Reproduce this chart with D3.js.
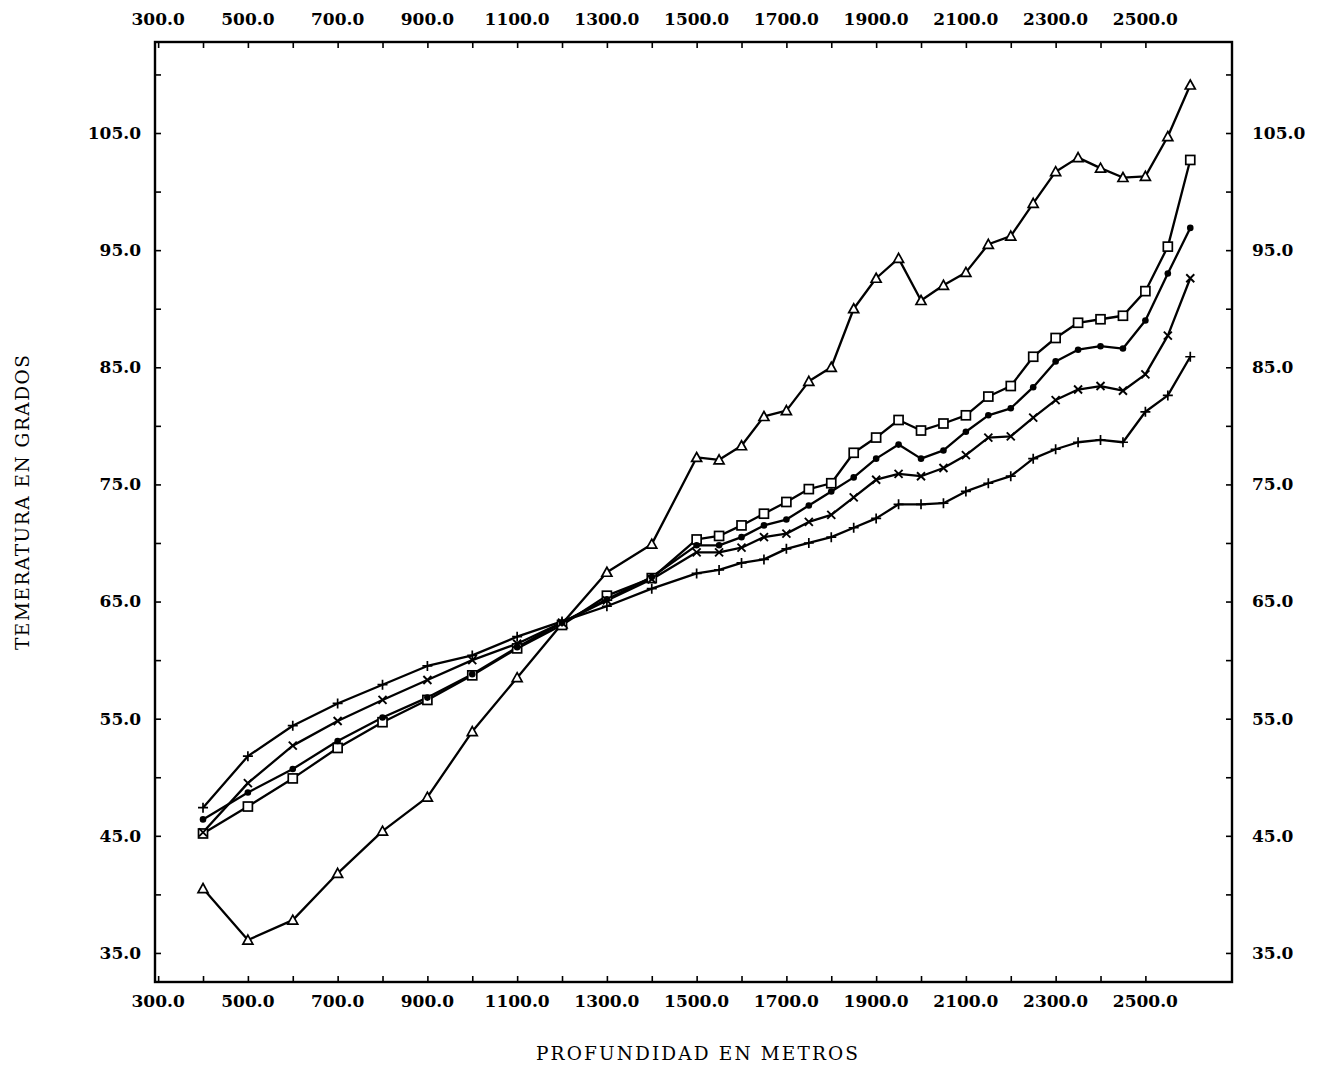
<!DOCTYPE html>
<html lang="es">
<head>
<meta charset="utf-8">
<title>Temperatura vs profundidad</title>
<script src="https://cdnjs.cloudflare.com/ajax/libs/d3/7.8.5/d3.min.js"></script>
<style>
  body { margin: 0; background: #fff; }
  svg { display: block; }
</style>
</head>
<body>
<div id="chart"></div>
<script>
////////////////////////////////////////////////// DATA
// profundidad (m)
var depths = [400, 500, 600, 700, 800, 900, 1000, 1100, 1200, 1300, 1400, 1500,
  1550, 1600, 1650, 1700, 1750, 1800, 1850, 1900, 1950, 2000, 2050, 2100,
  2150, 2200, 2250, 2300, 2350, 2400, 2450, 2500, 2550, 2600];

// temperatura (grados), una lista por curva
var tempTriangle = [40.5, 36.1, 37.8, 41.8, 45.4, 48.3, 53.9, 58.5, 63.1, 67.5, 69.9, 77.3,
  77.1, 78.3, 80.8, 81.3, 83.8, 85.0, 90.0, 92.6, 94.3, 90.7, 92.0, 93.1,
  95.5, 96.2, 99.0, 101.7, 102.9, 102.0, 101.2, 101.3, 104.7, 109.1];
var tempSquare = [45.2, 47.5, 49.9, 52.5, 54.7, 56.6, 58.7, 61.0, 63.0, 65.5, 67.0, 70.3,
  70.6, 71.5, 72.5, 73.5, 74.6, 75.1, 77.7, 79.0, 80.5, 79.6, 80.2, 80.9,
  82.5, 83.4, 85.9, 87.5, 88.8, 89.1, 89.4, 91.5, 95.3, 102.7];
var tempDot = [46.4, 48.7, 50.7, 53.1, 55.1, 56.8, 58.8, 61.1, 63.2, 65.2, 67.1, 69.8,
  69.8, 70.5, 71.5, 72.0, 73.2, 74.4, 75.6, 77.2, 78.4, 77.2, 77.9, 79.5,
  80.9, 81.5, 83.3, 85.5, 86.5, 86.8, 86.6, 89.0, 93.0, 96.9];
var tempCross = [45.3, 49.5, 52.7, 54.8, 56.6, 58.3, 60.0, 61.4, 63.2, 65.1, 66.9, 69.2,
  69.2, 69.6, 70.5, 70.8, 71.8, 72.4, 73.9, 75.4, 75.9, 75.7, 76.4, 77.5,
  79.0, 79.1, 80.7, 82.2, 83.1, 83.4, 83.0, 84.4, 87.7, 92.6];
var tempPlus = [47.4, 51.8, 54.4, 56.3, 57.9, 59.5, 60.4, 62.0, 63.3, 64.6, 66.1, 67.4,
  67.7, 68.3, 68.6, 69.5, 70.0, 70.5, 71.3, 72.1, 73.3, 73.3, 73.4, 74.4,
  75.1, 75.7, 77.2, 78.0, 78.6, 78.8, 78.6, 81.2, 82.6, 85.9];

var xTicks = d3.range(300, 2501, 100);
var xLabels = d3.range(300, 2501, 200);
var yTicks = d3.range(35, 111, 5);
var yLabels = d3.range(35, 106, 10);

var xTitle = "PROFUNDIDAD EN METROS";
var yTitle = "TEMERATURA EN GRADOS";

////////////////////////////////////////////////// SETUP
var svgWidth = 1340, svgHeight = 1067;
var plotLeft = 155, plotRight = 1232, plotTop = 42, plotBottom = 982;

var svg = d3.select("#chart").append("svg")
    .attr("width", svgWidth)
    .attr("height", svgHeight)
    .attr("font-family", "'DejaVu Serif', serif");

var x = d3.scaleLinear().domain([293, 2693]).range([plotLeft, plotRight]);
var y = d3.scaleLinear().domain([32.52, 112.77]).range([plotBottom, plotTop]);

var fmt = d3.format(".1f");

// axes: ticks inside the frame, labels outside
var tickLen = 6;
var axes = [
  d3.axisBottom(x).tickValues(xTicks).tickSizeInner(-tickLen).tickSizeOuter(0).tickFormat(""),
  d3.axisTop(x).tickValues(xTicks).tickSizeInner(-tickLen).tickSizeOuter(0).tickFormat(""),
  d3.axisLeft(y).tickValues(yTicks).tickSizeInner(-tickLen).tickSizeOuter(0).tickFormat(""),
  d3.axisRight(y).tickValues(yTicks).tickSizeInner(-tickLen).tickSizeOuter(0).tickFormat("")
];
var shifts = [[0, plotBottom], [0, plotTop], [plotLeft, 0], [plotRight, 0]];

axes.forEach(function(ax, i) {
  var g = svg.append("g")
      .attr("transform", "translate(" + shifts[i][0] + "," + shifts[i][1] + ")")
      .call(ax);
  g.select(".domain").remove();
  g.selectAll(".tick line").attr("stroke", "#000").attr("stroke-width", 1.6);
});

// frame
svg.append("rect")
    .attr("x", plotLeft).attr("y", plotTop)
    .attr("width", plotRight - plotLeft).attr("height", plotBottom - plotTop)
    .attr("fill", "none").attr("stroke", "#000").attr("stroke-width", 2.4);

// tick labels
var labelStyle = function(sel) {
  sel.attr("font-size", 17).attr("font-weight", "bold").attr("fill", "#000");
};

svg.append("g").selectAll("text").data(xLabels).join("text")
    .attr("x", d => x(d)).attr("y", 25)
    .attr("text-anchor", "middle").call(labelStyle).text(fmt);
svg.append("g").selectAll("text").data(xLabels).join("text")
    .attr("x", d => x(d)).attr("y", 1007)
    .attr("text-anchor", "middle").call(labelStyle).text(fmt);
svg.append("g").selectAll("text").data(yLabels).join("text")
    .attr("x", 141).attr("y", d => y(d)).attr("dy", "0.35em")
    .attr("text-anchor", "end").call(labelStyle).text(fmt);
svg.append("g").selectAll("text").data(yLabels).join("text")
    .attr("x", 1252).attr("y", d => y(d)).attr("dy", "0.35em")
    .attr("text-anchor", "start").call(labelStyle).text(fmt);

// axis titles
svg.append("text")
    .attr("x", (536 + 858) / 2).attr("y", 1060)
    .attr("text-anchor", "middle")
    .attr("font-size", 18.5)
    .attr("textLength", 322).attr("lengthAdjust", "spacing")
    .text(xTitle);
svg.append("text")
    .attr("transform", "translate(29," + (355 + 650) / 2 + ") rotate(-90)")
    .attr("text-anchor", "middle")
    .attr("font-size", 18.5)
    .attr("textLength", 295).attr("lengthAdjust", "spacing")
    .text(yTitle);

////////////////////////////////////////////////// SERIES
var series = [
  { name: "triangle", values: tempTriangle },
  { name: "square",   values: tempSquare },
  { name: "dot",      values: tempDot },
  { name: "cross",    values: tempCross },
  { name: "plus",     values: tempPlus }
];

var line = d3.line()
    .x((d, i) => x(depths[i]))
    .y(d => y(d));

var plot = svg.append("g");

series.forEach(function(s) {
  plot.append("path")
      .attr("d", line(s.values))
      .attr("fill", "none")
      .attr("stroke", "#000")
      .attr("stroke-width", 2.3)
      .attr("stroke-linejoin", "round");
});

function marker(sel, kind) {
  if (kind === "triangle") {
    sel.append("path")
        .attr("d", "M0,-5L5,4L-5,4Z")
        .attr("fill", "#fff").attr("stroke", "#000").attr("stroke-width", 1.7);
  } else if (kind === "square") {
    sel.append("rect")
        .attr("x", -4.5).attr("y", -4.5).attr("width", 9).attr("height", 9)
        .attr("fill", "#fff").attr("stroke", "#000").attr("stroke-width", 1.7);
  } else if (kind === "dot") {
    sel.append("circle").attr("r", 3.3).attr("fill", "#000");
  } else if (kind === "cross") {
    sel.append("path").attr("d", "M-4,-4L4,4M-4,4L4,-4")
        .attr("stroke", "#000").attr("stroke-width", 1.9);
  } else {
    sel.append("path").attr("d", "M-5,0H5M0,-5V5")
        .attr("stroke", "#000").attr("stroke-width", 1.7);
  }
}

series.forEach(function(s) {
  plot.append("g").selectAll("g")
      .data(s.values)
      .join("g")
      .attr("transform", (d, i) => "translate(" + x(depths[i]) + "," + y(d) + ")")
      .each(function() { marker(d3.select(this), s.name); });
});
</script>
</body>
</html>
